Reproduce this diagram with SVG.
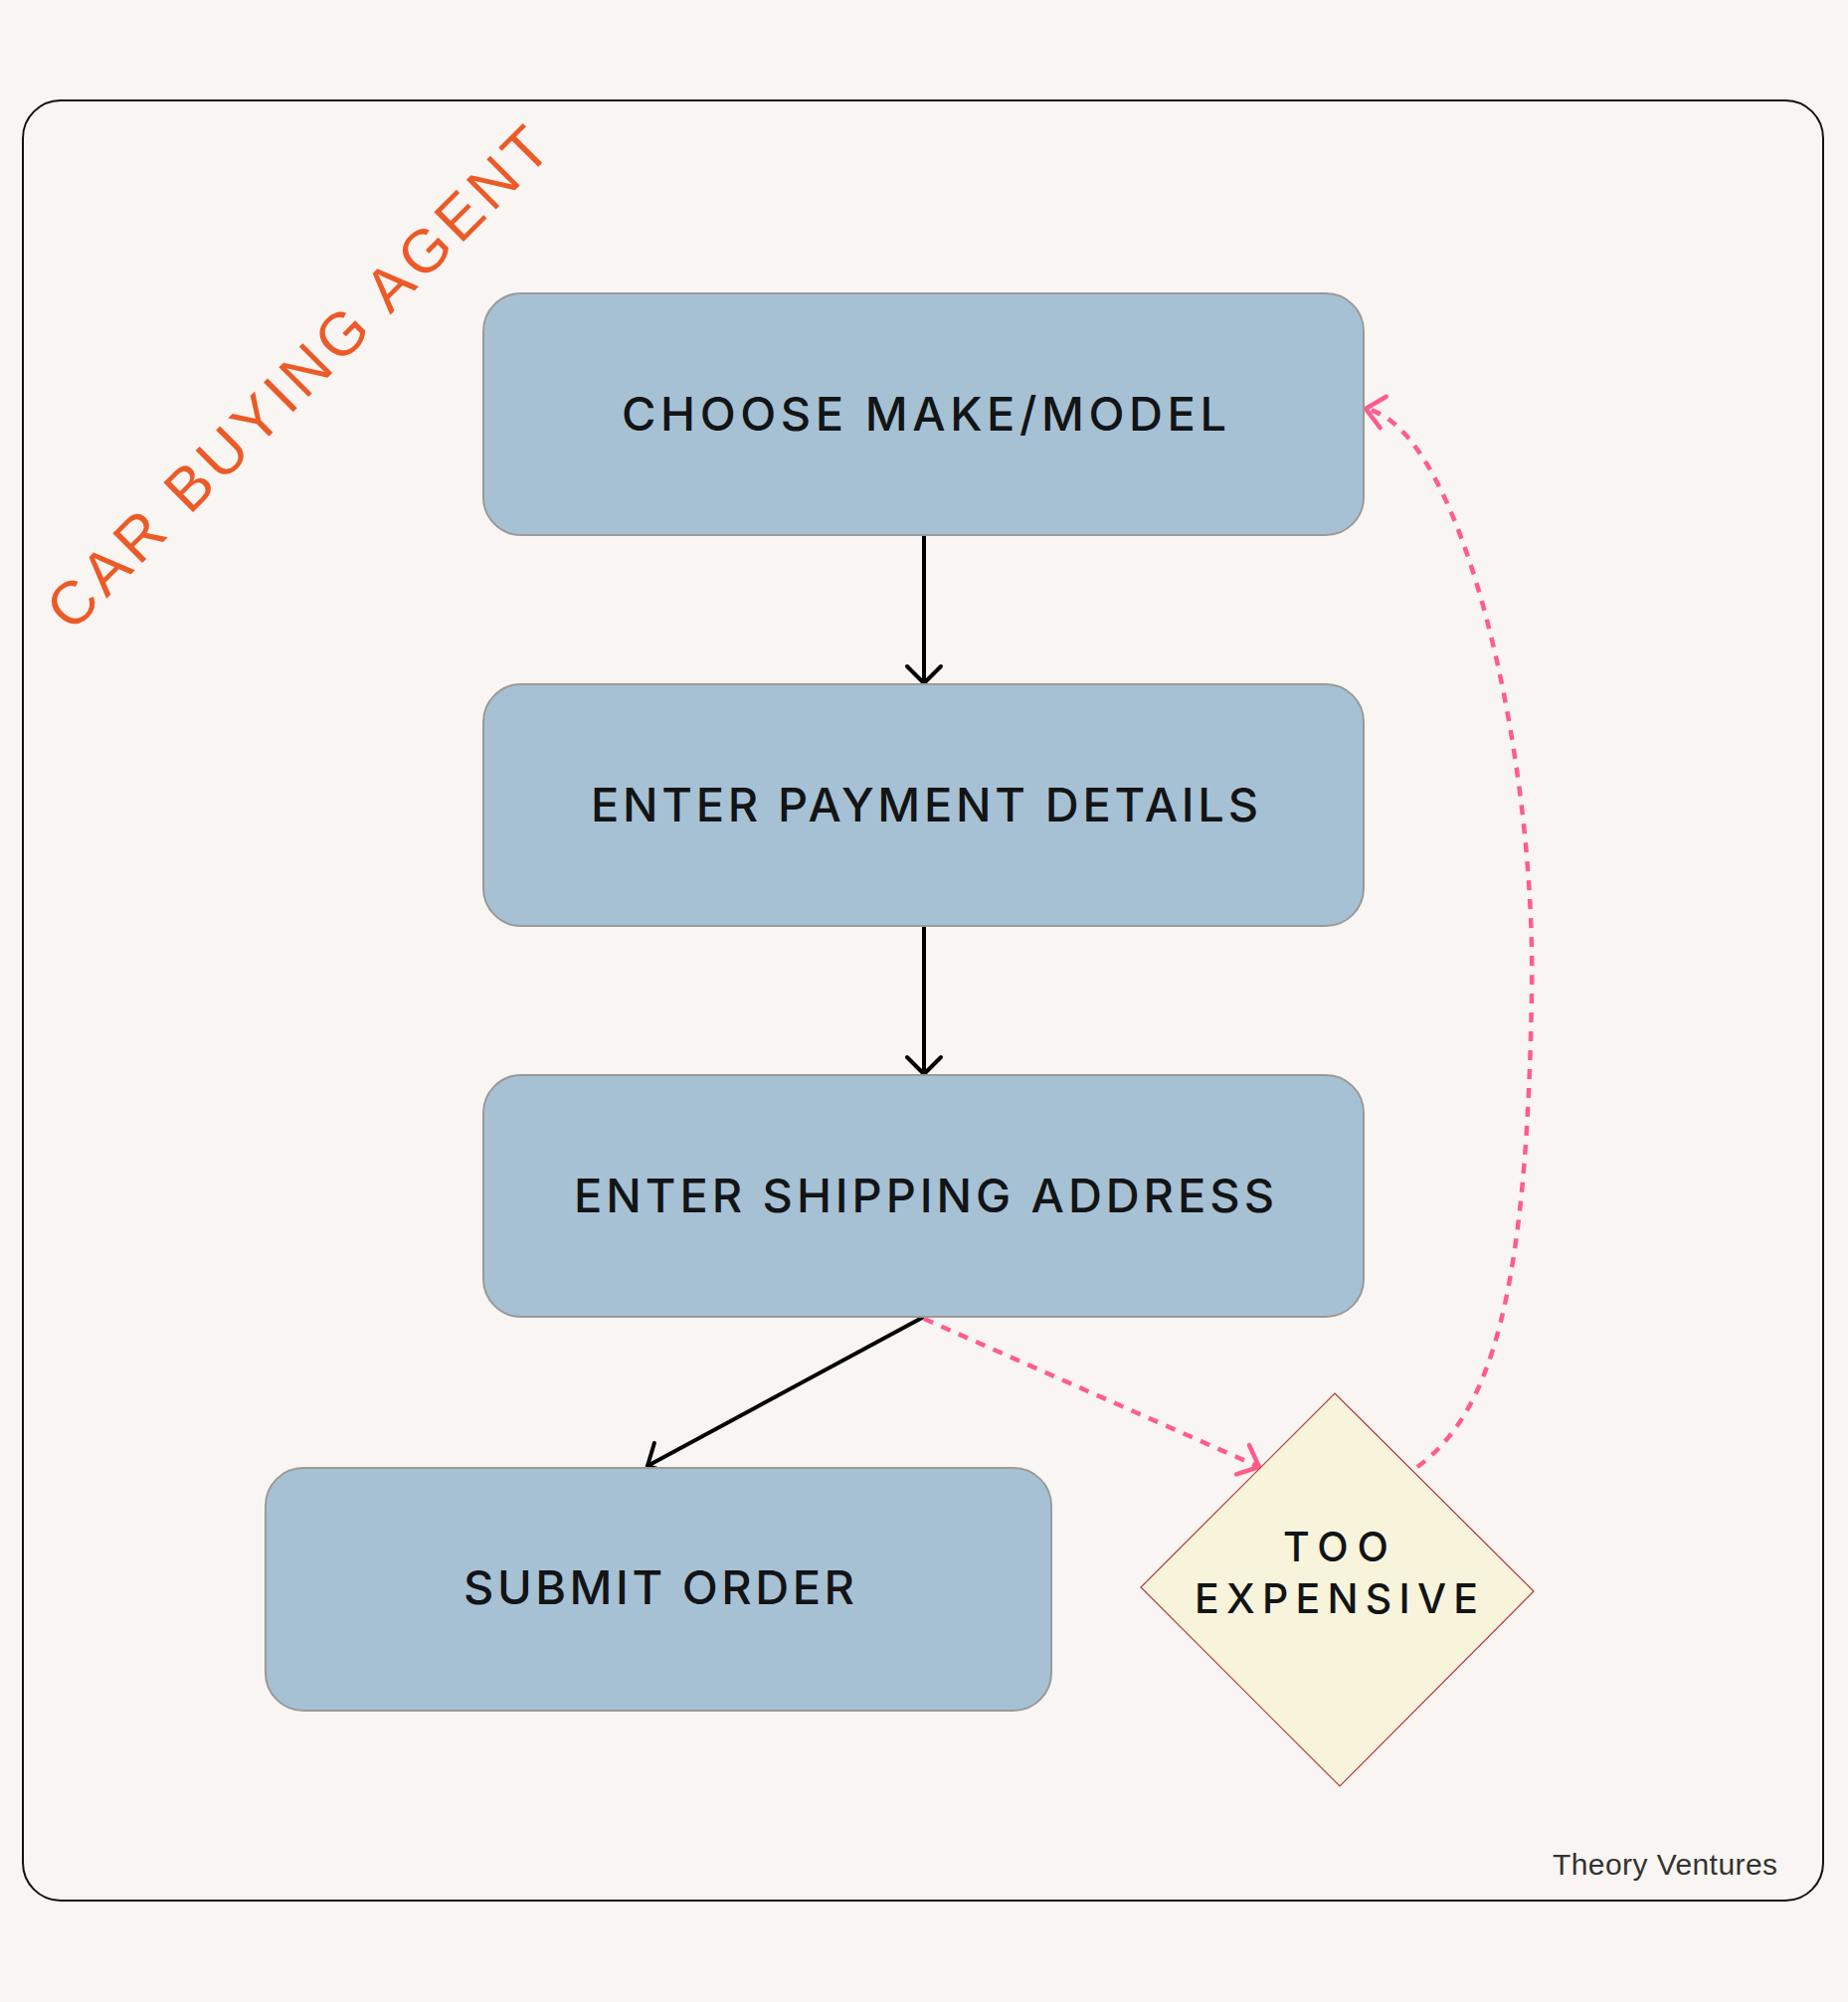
<svg xmlns="http://www.w3.org/2000/svg" width="1858" height="2013" viewBox="0 0 1858 2013">
  <style>
    .node rect { fill: #A7C1D4; stroke: #9A9A9A; stroke-width: 2; }
    .label { font-family: Inter, "Liberation Sans", sans-serif; font-weight: 500; font-size: 47px; fill: #121416; }
    .dlabel { font-family: Inter, "Liberation Sans", sans-serif; font-weight: 500; font-size: 41px; fill: #121416; }
    .solid { fill: none; stroke: #000; stroke-width: 4; stroke-linecap: round; }
    .dashed { fill: none; stroke: #FF5C8D; stroke-width: 4.5; stroke-dasharray: 10 9; }
  </style>
  <defs>
    <marker id="blackhead" markerUnits="userSpaceOnUse" orient="auto" markerWidth="40" markerHeight="40" refX="0" refY="0" viewBox="-25 -20 30 40" overflow="visible">
      <path d="M-17,-17 L0,0 L-17,17" fill="none" stroke="#000" stroke-width="4" stroke-linecap="round" stroke-linejoin="round"/>
    </marker>
    <marker id="pinkhead" markerUnits="userSpaceOnUse" orient="auto" markerWidth="40" markerHeight="40" refX="0" refY="0" viewBox="-25 -20 30 40" overflow="visible">
      <path d="M-18,-16 L0,0 L-18,16" fill="none" stroke="#FF5C8D" stroke-width="4.5" stroke-linecap="round" stroke-linejoin="round"/>
    </marker>
  </defs>
  <rect x="0" y="0" width="1858" height="2013" fill="#F8F5F2"/>
  <rect id="frame" x="23" y="101" width="1810" height="1810" rx="38" ry="38" fill="none" stroke="#111" stroke-width="2"/>
  <text id="title" x="72" y="637" transform="rotate(-45 72 637)" font-family="'Liberation Sans', Arial, sans-serif" font-size="61" fill="#EC5A28" textLength="685" lengthAdjust="spacing">CAR BUYING AGENT</text>

  <g id="connectors">
    <line class="solid" x1="929" y1="539" x2="929" y2="687" marker-end="url(#blackhead)"/>
    <line class="solid" x1="929" y1="932" x2="929" y2="1080" marker-end="url(#blackhead)"/>
    <line class="solid" x1="927" y1="1325" x2="651" y2="1474" marker-end="url(#blackhead)"/>
    <line class="dashed" x1="929" y1="1326" x2="1266" y2="1475" marker-end="url(#pinkhead)"/>
    <path class="dashed" d="M1425,1475 C1500,1420 1535,1300 1540,1000 C1545,760 1470,430 1373,411" marker-end="url(#pinkhead)"/>
  </g>

  <g id="node-choose">
    <g class="node"><rect x="486" y="295" width="885" height="243" rx="38" ry="38"/></g>
    <text class="label" x="625" y="433" textLength="608" lengthAdjust="spacing">CHOOSE MAKE/MODEL</text>
  </g>
  <g id="node-payment">
    <g class="node"><rect x="486" y="688" width="885" height="243" rx="38" ry="38"/></g>
    <text class="label" x="594" y="826" textLength="671" lengthAdjust="spacing">ENTER PAYMENT DETAILS</text>
  </g>
  <g id="node-shipping">
    <g class="node"><rect x="486" y="1081" width="885" height="243" rx="38" ry="38"/></g>
    <text class="label" x="577" y="1219" textLength="704" lengthAdjust="spacing">ENTER SHIPPING ADDRESS</text>
  </g>
  <g id="node-submit">
    <g class="node"><rect x="267" y="1476" width="790" height="244" rx="38" ry="38"/></g>
    <text class="label" x="466" y="1613" textLength="393" lengthAdjust="spacing">SUBMIT ORDER</text>
  </g>
  <g id="node-expensive">
    <polygon points="1342,1401 1542,1600 1347,1796 1147,1596" fill="#F8F4DC" stroke="#B0383C" stroke-width="1.2"/>
    <text class="dlabel" x="1290" y="1570" textLength="106" lengthAdjust="spacing">TOO</text>
    <text class="dlabel" x="1201" y="1622" textLength="285" lengthAdjust="spacing">EXPENSIVE</text>
  </g>

  <text id="credit" x="1561" y="1885" font-family="'Liberation Sans', Arial, sans-serif" font-size="30" fill="#333" textLength="226" lengthAdjust="spacing">Theory Ventures</text>
</svg>
